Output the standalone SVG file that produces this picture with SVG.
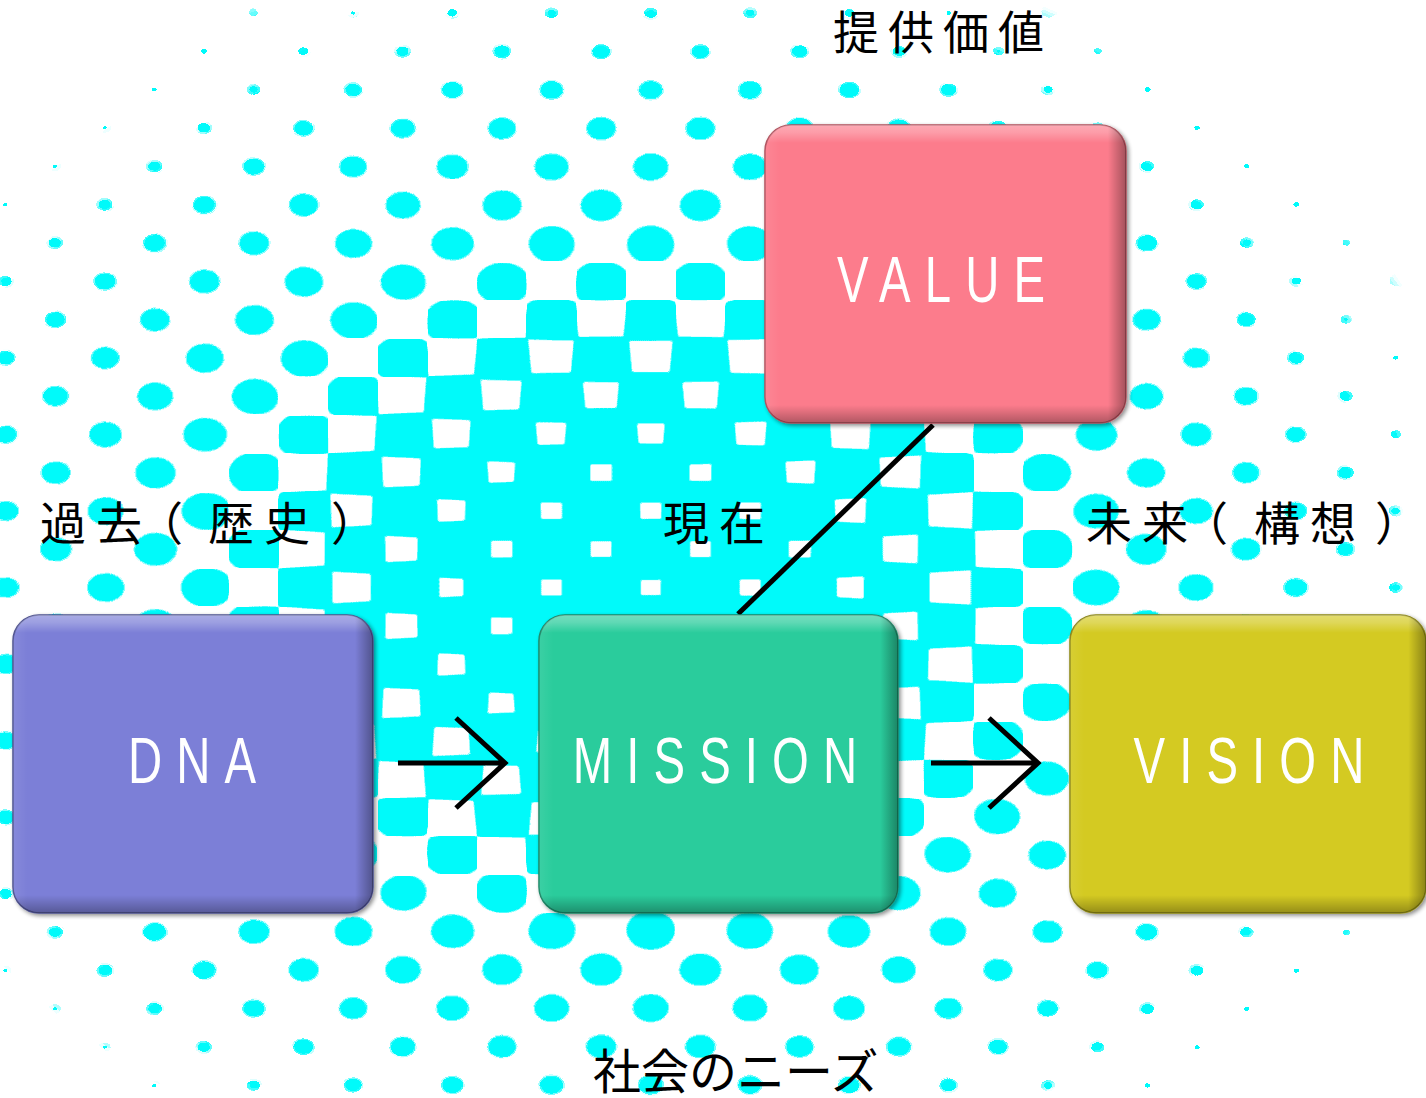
<svg xmlns="http://www.w3.org/2000/svg" width="1426" height="1098" viewBox="0 0 1426 1098">
<style>
.jp{font-family:"Noto Sans CJK JP","Noto Sans CJK SC",sans-serif;font-size:46px;fill:#000;letter-spacing:10px}
.en{font-family:"Liberation Sans",Arial,sans-serif;font-size:64px;fill:#fff;letter-spacing:19px;text-anchor:middle}
.conn{stroke:#000;stroke-width:5;fill:none;stroke-linecap:butt}
.bv{fill:url(#bevV)}
.bh{fill:url(#bevH)}
</style>
<defs>
<radialGradient id="gDot" cx="0.5" cy="0.5" r="0.7071">
<stop offset="0" stop-color="#fff"/><stop offset="1" stop-color="#808080"/>
</radialGradient>
<radialGradient id="gHole" cx="0.5" cy="0.5" r="0.5">
<stop offset="0" stop-color="#000"/><stop offset="1" stop-color="#808080"/>
</radialGradient>
<linearGradient id="pT" x1="0" y1="0" x2="0" y2="1"><stop offset="0" stop-color="#808080"/><stop offset="1" stop-color="#000"/></linearGradient>
<linearGradient id="pB" x1="0" y1="0" x2="0" y2="1"><stop offset="0" stop-color="#000"/><stop offset="1" stop-color="#808080"/></linearGradient>
<linearGradient id="pL" x1="0" y1="0" x2="1" y2="0"><stop offset="0" stop-color="#808080"/><stop offset="1" stop-color="#000"/></linearGradient>
<linearGradient id="pR" x1="0" y1="0" x2="1" y2="0"><stop offset="0" stop-color="#000"/><stop offset="1" stop-color="#808080"/></linearGradient>
<pattern id="ht" patternUnits="userSpaceOnUse" x="30.175" y="-6.15" width="99.3" height="76.6">
<rect x="0" y="0" width="99.3" height="76.6" fill="#808080"/>
<rect x="0" y="0" width="49.65" height="38.3" fill="url(#gDot)"/>
<rect x="49.65" y="38.3" width="49.65" height="38.3" fill="url(#gDot)"/>
<rect x="49.65" y="0" width="49.65" height="38.3" fill="url(#gHole)"/>
<polygon points="49.65,0 99.3,0 74.475,19.15" fill="url(#pT)"/>
<polygon points="49.65,38.3 99.3,38.3 74.475,19.15" fill="url(#pB)"/>
<polygon points="49.65,0 49.65,38.3 74.475,19.15" fill="url(#pL)"/>
<polygon points="99.3,0 99.3,38.3 74.475,19.15" fill="url(#pR)"/>
<rect x="0" y="38.3" width="49.65" height="38.3" fill="url(#gHole)"/>
<polygon points="0,38.3 49.65,38.3 24.825,57.45" fill="url(#pT)"/>
<polygon points="0,76.6 49.65,76.6 24.825,57.45" fill="url(#pB)"/>
<polygon points="0,38.3 0,76.6 24.825,57.45" fill="url(#pL)"/>
<polygon points="49.65,38.3 49.65,76.6 24.825,57.45" fill="url(#pR)"/>
</pattern>
<radialGradient id="gDens" gradientUnits="userSpaceOnUse" cx="640" cy="590" r="670" gradientTransform="translate(640 590) scale(1.3 1) translate(-640 -590)">
<stop offset="0" stop-color="#000" stop-opacity="0.714"/>
<stop offset="0.2" stop-color="#000" stop-opacity="0.697"/>
<stop offset="0.38" stop-color="#000" stop-opacity="0.50"/>
<stop offset="0.52" stop-color="#000" stop-opacity="0.311"/>
<stop offset="0.66" stop-color="#000" stop-opacity="0.225"/>
<stop offset="0.8" stop-color="#000" stop-opacity="0.145"/>
<stop offset="0.9" stop-color="#000" stop-opacity="0.08"/>
<stop offset="0.97" stop-color="#000" stop-opacity="0.03"/>
<stop offset="1" stop-color="#000" stop-opacity="0"/>
</radialGradient>
<mask id="dens" maskUnits="userSpaceOnUse" x="0" y="0" width="1426" height="1098" mask-type="alpha" style="mask-type:alpha">
<rect x="0" y="0" width="1426" height="1098" fill="url(#gDens)"/>
</mask>
<filter id="thr" filterUnits="userSpaceOnUse" x="0" y="0" width="1426" height="1098" color-interpolation-filters="sRGB">
<feColorMatrix type="matrix" values="0 0 0 0 0  0 0 0 0 0.98  0 0 0 0 0.98  30 0 0 35 -30.5"/>
</filter>
<linearGradient id="bevV" x1="0" y1="0" x2="0" y2="1">
<stop offset="0" stop-color="#fff" stop-opacity="0.35"/>
<stop offset="0.025" stop-color="#fff" stop-opacity="0.25"/>
<stop offset="0.06" stop-color="#fff" stop-opacity="0"/>
<stop offset="0.94" stop-color="#000" stop-opacity="0"/>
<stop offset="1" stop-color="#000" stop-opacity="0.3"/>
</linearGradient>
<linearGradient id="bevH" x1="0" y1="0" x2="1" y2="0">
<stop offset="0" stop-color="#fff" stop-opacity="0.08"/>
<stop offset="0.04" stop-color="#fff" stop-opacity="0"/>
<stop offset="0.95" stop-color="#000" stop-opacity="0"/>
<stop offset="1" stop-color="#000" stop-opacity="0.35"/>
</linearGradient>
<filter id="sh" x="-5%" y="-5%" width="115%" height="115%">
<feGaussianBlur in="SourceAlpha" stdDeviation="2"/>
<feOffset dx="2" dy="2" result="b"/>
<feComponentTransfer><feFuncA type="linear" slope="0.45"/></feComponentTransfer>
<feMerge><feMergeNode/><feMergeNode in="SourceGraphic"/></feMerge>
</filter>
</defs>
<rect id="bg" x="0" y="0" width="1426" height="1098" fill="#fff"/>
<g id="halftone" filter="url(#thr)">
<g mask="url(#dens)">
<rect x="0" y="0" width="1426" height="1098" fill="url(#ht)"/>
</g>
</g>
<g id="connectors">
<line class="conn" x1="933" y1="425" x2="738" y2="614"/>
<path class="conn" d="M398 763 H505 M456 718 L505 763 L456 808"/>
<path class="conn" d="M931 763 H1038 M989 718 L1038 763 L989 808"/>
</g>
<g id="node-value">
<g filter="url(#sh)"><rect x="765" y="125" width="361" height="298" rx="26" fill="#FC7B8C" stroke="#b0505c" stroke-width="1.5"/></g>
<rect class="bv" x="765" y="125" width="361" height="298" rx="26"/>
<rect class="bh" x="765" y="125" width="361" height="298" rx="26"/>
<text class="en" transform="translate(948 302) scale(0.74 1)">VALUE</text>
</g>
<g id="node-dna">
<g filter="url(#sh)"><rect x="13" y="615" width="360" height="298" rx="26" fill="#7B7FD7" stroke="#4e518f" stroke-width="1.5"/></g>
<rect class="bv" x="13" y="615" width="360" height="298" rx="26"/>
<rect class="bh" x="13" y="615" width="360" height="298" rx="26"/>
<text class="en" transform="translate(199 783) scale(0.74 1)">DNA</text>
</g>
<g id="node-mission">
<g filter="url(#sh)"><rect x="539" y="615" width="359" height="298" rx="26" fill="#2BCC9C" stroke="#1c8766" stroke-width="1.5"/></g>
<rect class="bv" x="539" y="615" width="359" height="298" rx="26"/>
<rect class="bh" x="539" y="615" width="359" height="298" rx="26"/>
<text class="en" transform="translate(722 783) scale(0.74 1)">MISSION</text>
</g>
<g id="node-vision">
<g filter="url(#sh)"><rect x="1070" y="615" width="356" height="298" rx="26" fill="#D4CA22" stroke="#8c8616" stroke-width="1.5"/></g>
<rect class="bv" x="1070" y="615" width="356" height="298" rx="26"/>
<rect class="bh" x="1070" y="615" width="356" height="298" rx="26"/>
<text class="en" transform="translate(1256 783) scale(0.74 1)">VISION</text>
</g>
<g id="labels">
<text class="jp" x="833" y="49" style="letter-spacing:9px">提供価値</text>
<text class="jp" x="40 96 137 208 264 331" y="540" style="letter-spacing:0px">過去（歴史）</text>
<text class="jp" x="663" y="540">現在</text>
<text class="jp" x="1086 1142 1182 1254 1310 1375" y="540" style="letter-spacing:0px">未来（構想）</text>
<text class="jp" x="593" y="1089" style="font-size:48px;letter-spacing:0px">社会のニーズ</text>
</g>
</svg>
